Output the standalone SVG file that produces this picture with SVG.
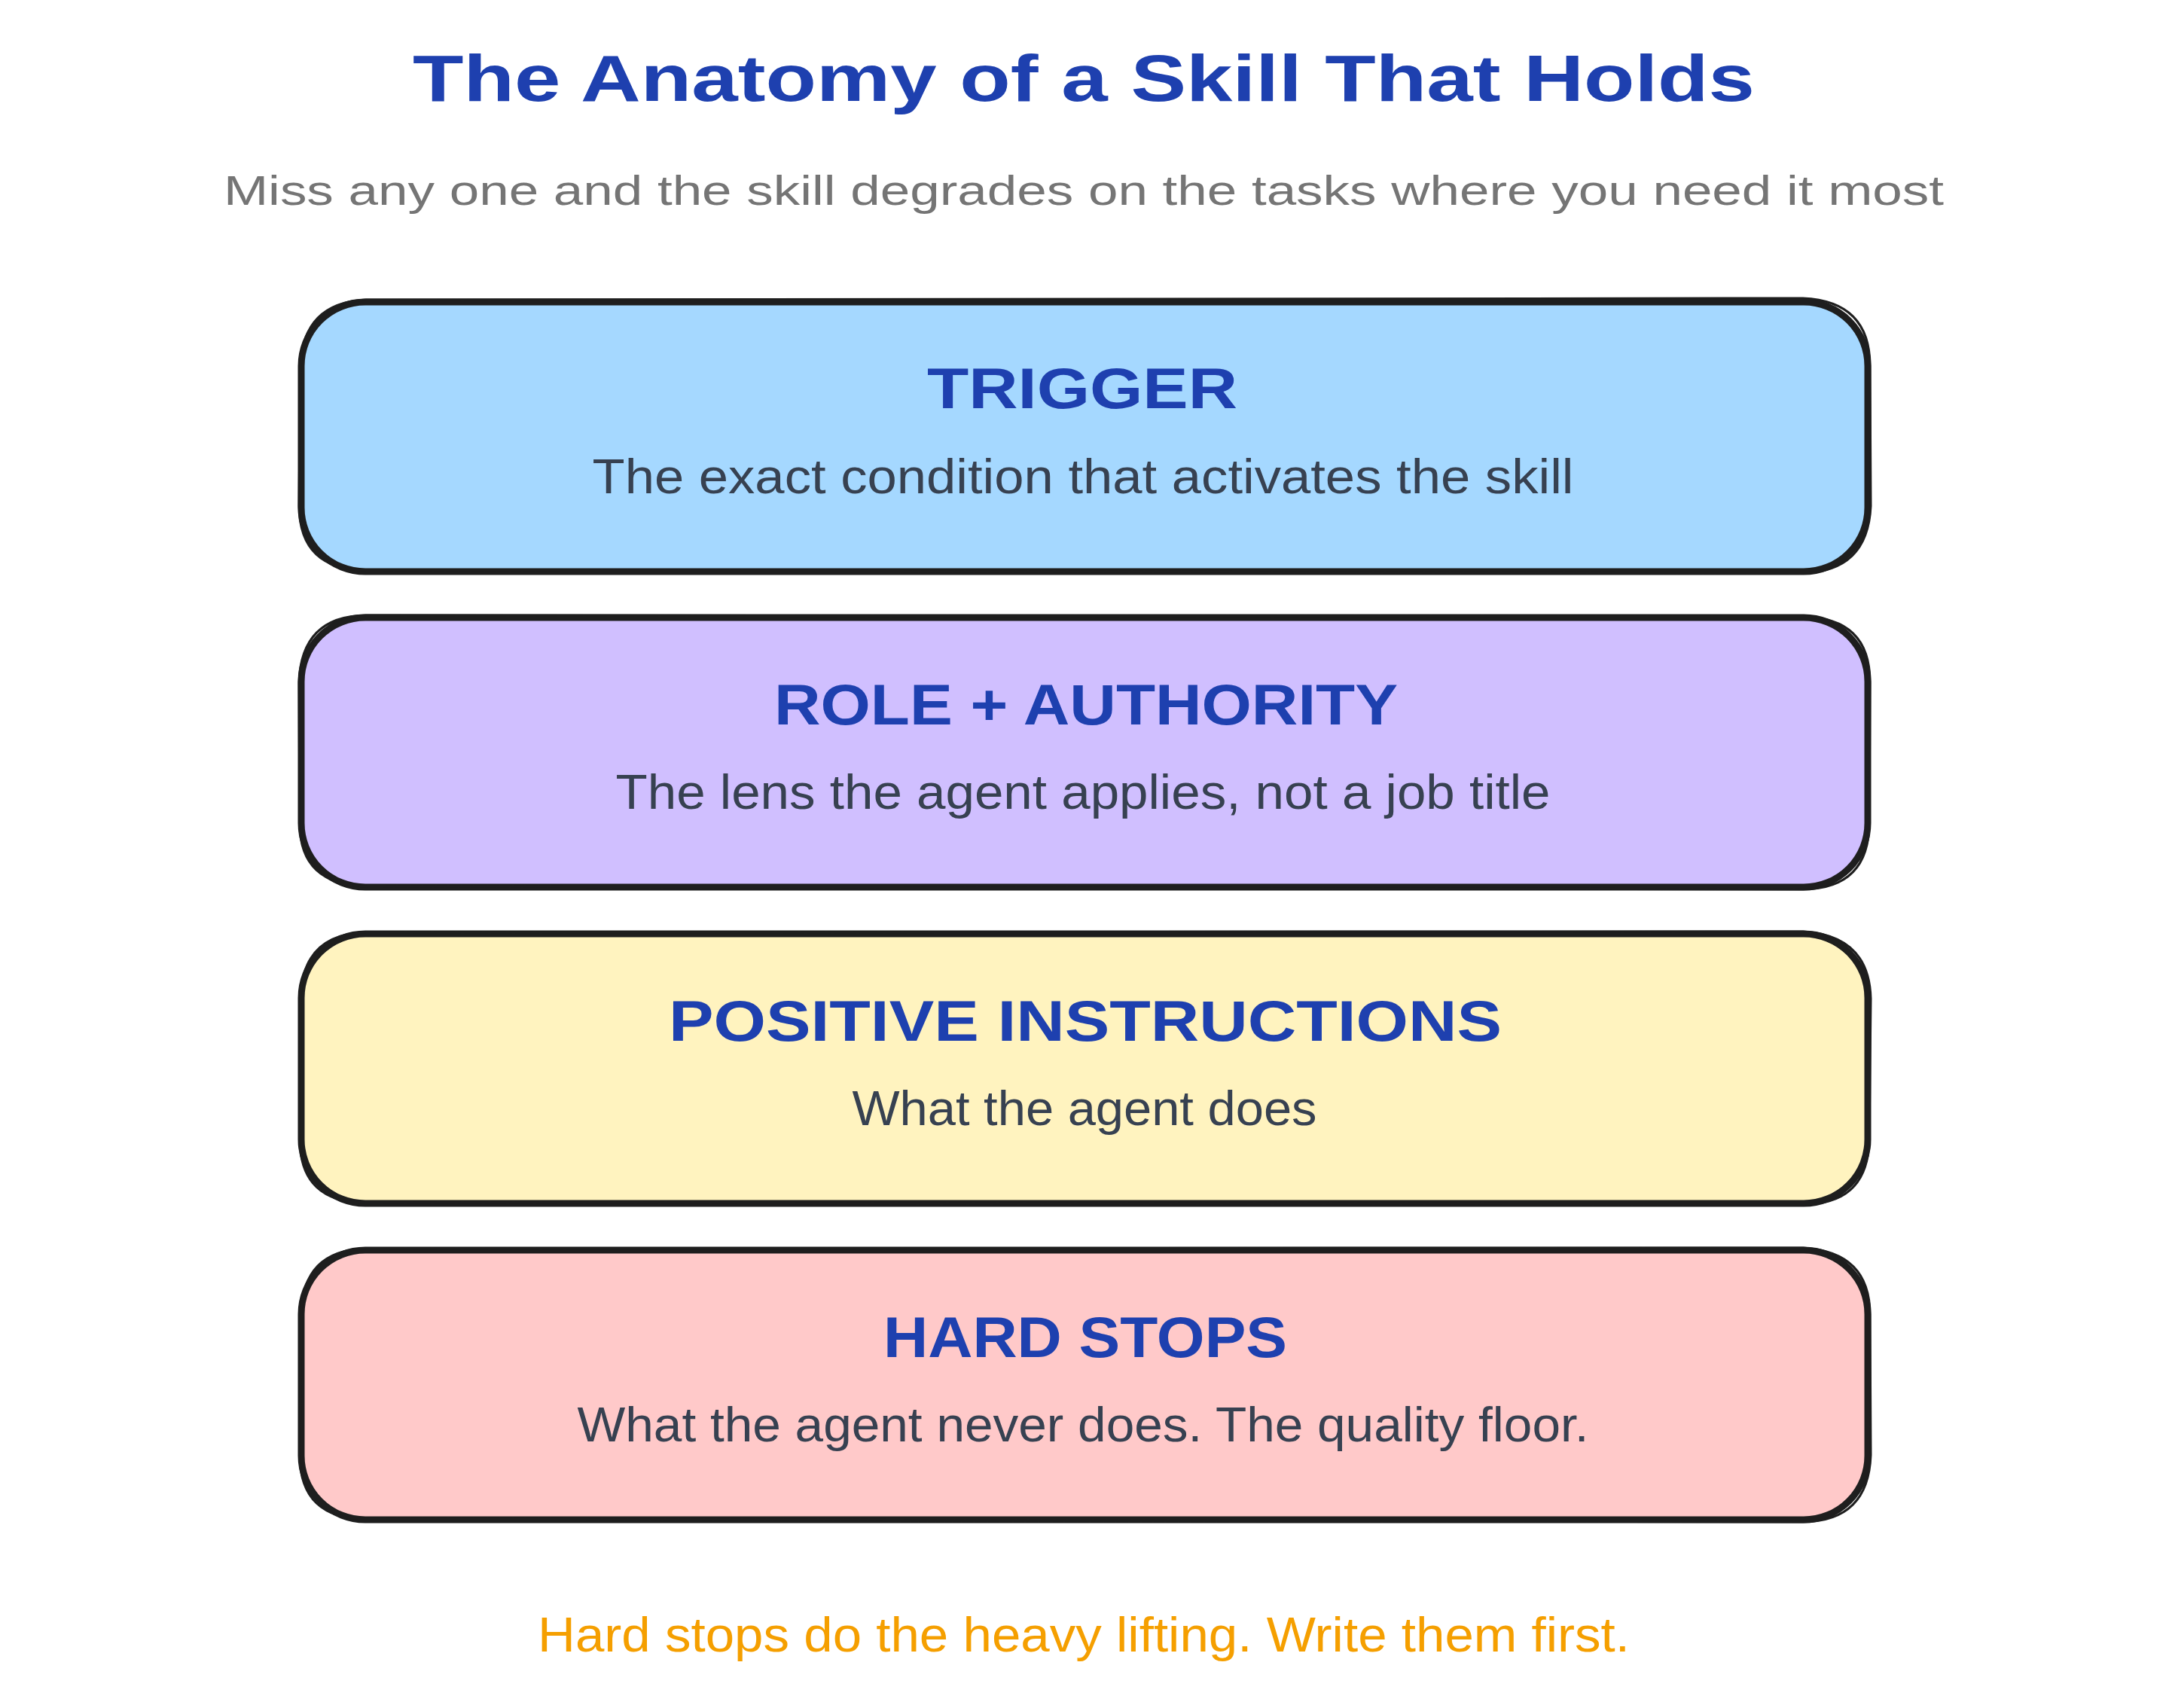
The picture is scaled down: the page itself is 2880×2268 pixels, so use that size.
<svg xmlns="http://www.w3.org/2000/svg" width="2880" height="2268" viewBox="0 0 2880 2268">
<style>
.box{stroke:#1e1e1e;stroke-width:9;stroke-linejoin:round}
.sk{fill:none;stroke:#1e1e1e;stroke-width:3}
.head{font-family:"Liberation Sans",Arial,sans-serif;font-size:76px;font-weight:bold;fill:#1e40af;text-anchor:middle}
.desc{font-family:"Liberation Sans",Arial,sans-serif;font-size:64px;fill:#374151;text-anchor:middle}
.title{font-family:"Liberation Sans",Arial,sans-serif;font-size:88px;font-weight:bold;fill:#1e40af;text-anchor:middle}
.sub{font-family:"Liberation Sans",Arial,sans-serif;font-size:56px;fill:#757575;text-anchor:middle}
.foot{font-family:"Liberation Sans",Arial,sans-serif;font-size:64px;fill:#f59f00;text-anchor:middle}
</style>
<rect width="2880" height="2268" fill="#ffffff"/>
<g id="title">
<text class="title" x="1439" y="134" textLength="1782" lengthAdjust="spacingAndGlyphs">The Anatomy of a Skill That Holds</text>
<text class="sub" x="1439" y="272" textLength="2284" lengthAdjust="spacingAndGlyphs">Miss any one and the skill degrades on the tasks where you need it most</text>
</g>
<g id="connectors"></g>
<g id="trigger">
<rect class="box" x="400" y="401" width="2080" height="358" rx="85" fill="#a5d8ff"/>
<path class="sk" d="M486 398 L2394 396 Q2484 400 2483 488 L2484 672 Q2480 760 2392 761 L488 757 Q398 758 397 672 L399 486 Q402 402 486 398"/>
<text class="head" x="1437" y="542" textLength="412" lengthAdjust="spacingAndGlyphs">TRIGGER</text>
<text class="desc" x="1438" y="655" textLength="1303" lengthAdjust="spacingAndGlyphs">The exact condition that activates the skill</text>
</g>
<g id="role">
<rect class="box" x="400" y="820" width="2080" height="358" rx="85" fill="#d0bfff"/>
<path class="sk" d="M486 817 L2394 819 Q2483 820 2483 906 L2482 1092 Q2482 1180 2394 1181 L488 1177 Q397 1176 398 1092 L397 906 Q400 818 486 817"/>
<text class="head" x="1442" y="962" textLength="828" lengthAdjust="spacingAndGlyphs">ROLE + AUTHORITY</text>
<text class="desc" x="1438" y="1074" textLength="1241" lengthAdjust="spacingAndGlyphs">The lens the agent applies, not a job title</text>
</g>
<g id="positive">
<rect class="box" x="400" y="1240" width="2080" height="358" rx="85" fill="#fff3bf"/>
<path class="sk" d="M486 1238 L2394 1237 Q2482 1242 2484 1326 L2482 1512 Q2481 1600 2393 1599 L487 1597 Q398 1598 398 1512 L399 1326 Q401 1240 486 1238"/>
<text class="head" x="1441" y="1382" textLength="1106" lengthAdjust="spacingAndGlyphs">POSITIVE INSTRUCTIONS</text>
<text class="desc" x="1440" y="1494" textLength="617" lengthAdjust="spacingAndGlyphs">What the agent does</text>
</g>
<g id="hardstops">
<rect class="box" x="400" y="1660" width="2080" height="358" rx="85" fill="#ffc9c9"/>
<path class="sk" d="M486 1658 L2394 1657 Q2483 1662 2483 1746 L2484 1932 Q2481 2020 2394 2021 L488 2017 Q398 2018 398 1932 L400 1746 Q401 1660 486 1658"/>
<text class="head" x="1441" y="1802" textLength="536" lengthAdjust="spacingAndGlyphs">HARD STOPS</text>
<text class="desc" x="1438" y="1914" textLength="1343" lengthAdjust="spacingAndGlyphs">What the agent never does. The quality floor.</text>
</g>
<g id="footer">
<text class="foot" x="1439" y="2193" textLength="1450" lengthAdjust="spacingAndGlyphs">Hard stops do the heavy lifting. Write them first.</text>
</g>
</svg>
